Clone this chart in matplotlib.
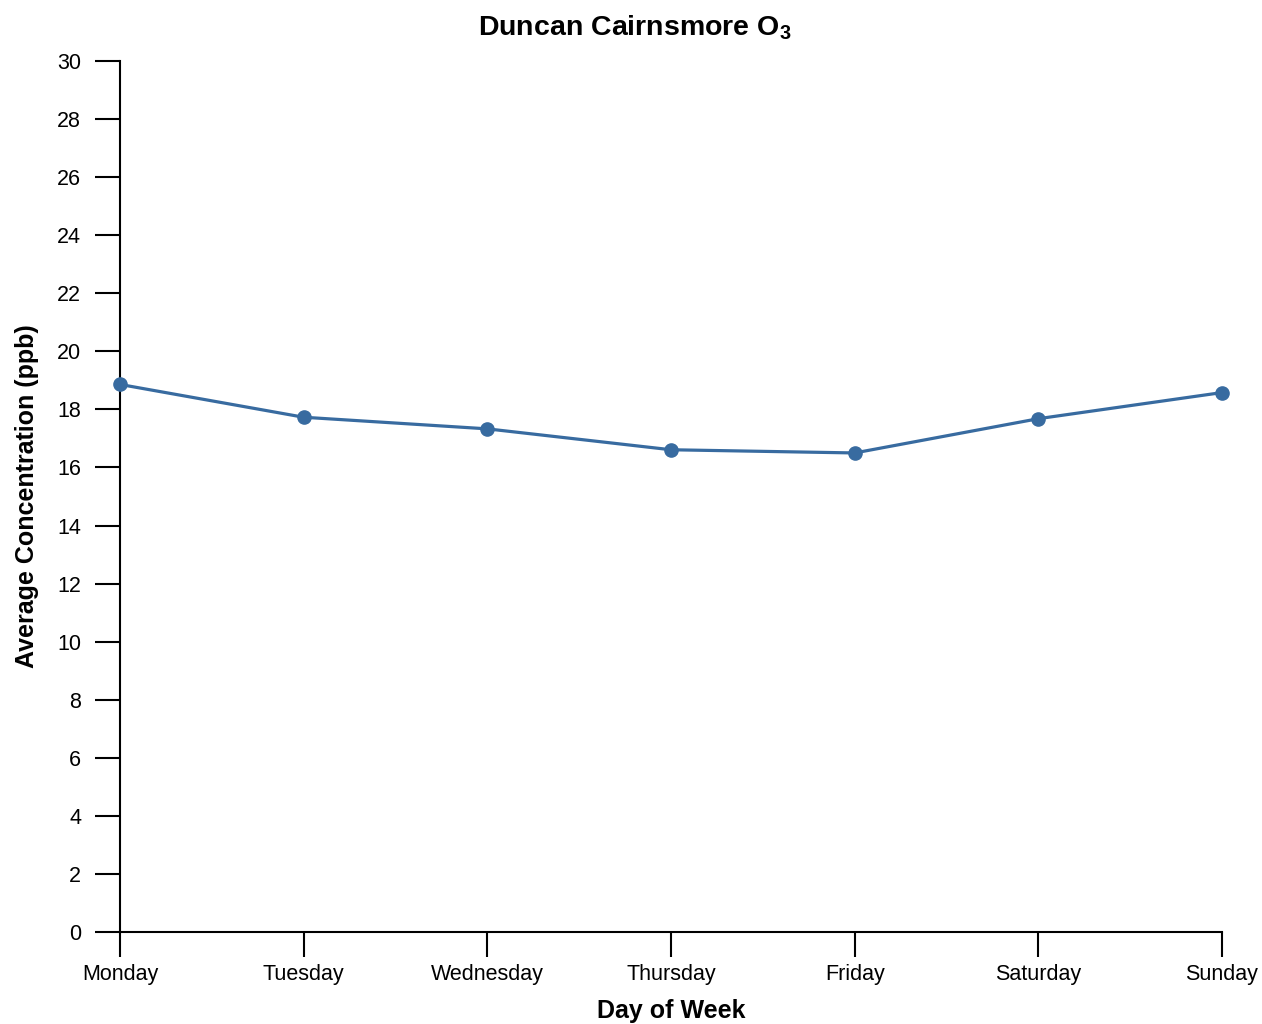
import matplotlib
matplotlib.use('Agg')
import matplotlib.pyplot as plt

days = ['Monday', 'Tuesday', 'Wednesday', 'Thursday', 'Friday', 'Saturday', 'Sunday']
avg_conc = [18.86, 17.73, 17.33, 16.61, 16.50, 17.68, 18.58]
y_ticks = list(range(0, 31, 2))

plt.rcParams['font.family'] = ['Liberation Sans', 'DejaVu Sans']
plt.rcParams['mathtext.fontset'] = 'custom'
plt.rcParams['mathtext.rm'] = 'Liberation Sans'
plt.rcParams['mathtext.bf'] = 'Liberation Sans:bold'

fig = plt.figure(figsize=(12.62, 10.24), dpi=100)
ax = fig.add_axes([120 / 1262, 92 / 1024, 1102 / 1262, 871 / 1024])

ax.plot(range(len(days)), avg_conc, color='#386ba0', linewidth=2.3,
        marker='o', markersize=9.5, clip_on=False, zorder=3)

ax.set_xlim(0, len(days) - 1)
ax.set_ylim(0, 30)
ax.set_xticks(range(len(days)))
ax.set_xticklabels(days)
ax.set_yticks(y_ticks)

for side in ['top', 'right']:
    ax.spines[side].set_visible(False)
for side in ['left', 'bottom']:
    ax.spines[side].set_linewidth(1.5)
ax.tick_params(axis='both', length=18, width=1.5, labelsize=15.5)
ax.tick_params(axis='x', pad=5)
ax.tick_params(axis='y', pad=10)

# title is centred on the whole figure, not on the axes
fig.text(0.503, 1 - 28 / 1024, r'Duncan Cairnsmore O$_{\mathbf{3}}$',
         fontsize=20.5, fontweight='bold', ha='center', va='center')
ax.set_xlabel('Day of Week', fontsize=18, fontweight='bold', labelpad=10)
ax.set_ylabel('Average Concentration (ppb)', fontsize=18, fontweight='bold', labelpad=13)

fig.savefig('out.png', dpi=100)
